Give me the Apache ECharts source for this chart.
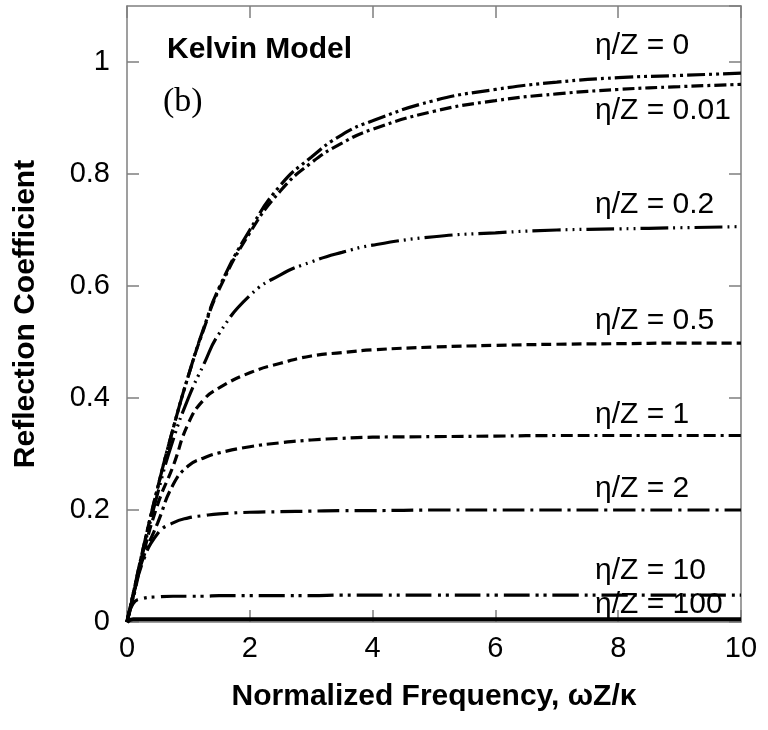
<!DOCTYPE html>
<html>
<head>
<meta charset="utf-8">
<script src="https://cdn.jsdelivr.net/npm/echarts@6/dist/echarts.min.js"></script>
<style>
html,body{margin:0;padding:0;background:#fff;}
#chart{width:768px;height:730px;}
</style>
</head>
<body>
<div id="chart"></div>
<script>
// Normalized frequency sample points
var xs = [0, 0.1, 0.25, 0.5, 0.75, 1, 1.25, 1.5, 2, 2.5, 3, 3.5, 4, 5, 6, 7, 8, 9, 10];

// Reflection coefficient for each eta/Z
var eta0    = [0, 0.05, 0.125, 0.24, 0.345, 0.44, 0.525, 0.597, 0.70, 0.78, 0.83, 0.87, 0.895, 0.931, 0.951, 0.964, 0.972, 0.976, 0.980];
var eta001  = [0, 0.05, 0.125, 0.24, 0.345, 0.44, 0.523, 0.594, 0.695, 0.77, 0.82, 0.855, 0.88, 0.912, 0.931, 0.943, 0.951, 0.956, 0.960];
var eta02   = [0, 0.048, 0.12, 0.23, 0.325, 0.40, 0.46, 0.515, 0.583, 0.62, 0.643, 0.66, 0.673, 0.688, 0.695, 0.70, 0.702, 0.704, 0.706];
var eta05   = [0, 0.045, 0.115, 0.21, 0.278, 0.355, 0.397, 0.418, 0.445, 0.462, 0.475, 0.481, 0.486, 0.491, 0.494, 0.496, 0.497, 0.498, 0.498];
var eta1    = [0, 0.045, 0.11, 0.177, 0.245, 0.279, 0.293, 0.302, 0.313, 0.32, 0.325, 0.328, 0.330, 0.331, 0.332, 0.333, 0.333, 0.333, 0.333];
var eta2    = [0, 0.042, 0.105, 0.158, 0.177, 0.186, 0.19, 0.193, 0.196, 0.197, 0.198, 0.199, 0.199, 0.200, 0.200, 0.200, 0.200, 0.200, 0.200];
var eta10   = [0, 0.033, 0.042, 0.045, 0.046, 0.046, 0.046, 0.047, 0.047, 0.047, 0.047, 0.048, 0.048, 0.048, 0.048, 0.048, 0.048, 0.048, 0.048];
var eta100  = [0, 0.005, 0.005, 0.005, 0.005, 0.005, 0.005, 0.005, 0.005, 0.005, 0.005, 0.005, 0.005, 0.005, 0.005, 0.005, 0.005, 0.005, 0.005];

var seriesNames = ['η/Z = 0', 'η/Z = 0.01', 'η/Z = 0.2', 'η/Z = 0.5', 'η/Z = 1', 'η/Z = 2', 'η/Z = 10', 'η/Z = 100'];
var seriesData = [eta0, eta001, eta02, eta05, eta1, eta2, eta10, eta100];

var xTicks = [0, 2, 4, 6, 8, 10];
var yTicks = [0, 0.2, 0.4, 0.6, 0.8, 1];

var dashes = [
  [18, 4, 3, 4, 3, 4],
  [12, 4, 3, 4],
  [28, 5, 2, 5, 2, 5, 2, 5],
  [10, 5],
  [12, 5, 12, 5, 3, 5],
  [22, 6, 3, 6],
  [26, 6, 3, 5, 3, 6],
  'solid'
];
var widths = [3.2, 3.2, 3.2, 3.2, 3.2, 3.2, 3.2, 4];

// label positions (pixel) for annotations
var labelPos = [[595, 46], [595, 111], [595, 205], [595, 321], [595, 415], [595, 489], [595, 571], [595, 605]];

var chart = echarts.init(document.getElementById('chart'), null, {renderer: 'canvas'});

var series = seriesData.map(function (arr, i) {
  return {
    name: seriesNames[i],
    type: 'line',
    xAxisIndex: 0, yAxisIndex: 0,
    data: xs.map(function (x, j) { return [x, arr[j]]; }),
    showSymbol: false,
    smooth: 0.5,
    lineStyle: {color: '#000', width: widths[i], type: dashes[i], cap: 'butt'},
    z: 3,
    animation: false
  };
});

var FONT = '"Liberation Sans", Arial, sans-serif';
var axisCol = '#7f7f7f';

var graphics = seriesNames.map(function (n, i) {
  return {
    type: 'text', x: labelPos[i][0], y: labelPos[i][1], z: 10,
    style: {text: n, fontFamily: FONT, fontSize: 30, fill: '#000', verticalAlign: 'middle', align: 'left'}
  };
});
graphics.push({
  type: 'text', x: 167, y: 50, z: 10,
  style: {text: 'Kelvin Model', fontFamily: FONT, fontSize: 30, fontWeight: 'bold', fill: '#000', verticalAlign: 'middle'}
});
graphics.push({
  type: 'text', x: 163, y: 102, z: 10,
  style: {text: '(b)', fontFamily: '"Liberation Serif", "Times New Roman", serif', fontSize: 34, fill: '#000', verticalAlign: 'middle'}
});

function axisCommon() {
  return {
    axisLine: {show: true, onZero: false, lineStyle: {color: axisCol, width: 1.5}},
    axisTick: {show: true, inside: true, length: 12, lineStyle: {color: axisCol, width: 1.5}},
    splitLine: {show: false}
  };
}

var xBottom = Object.assign(axisCommon(), {
  type: 'value', min: 0, max: 10, interval: 2, position: 'bottom',
  name: 'Normalized Frequency, ωZ/κ', nameLocation: 'middle', nameGap: 60,
  nameTextStyle: {fontFamily: FONT, fontSize: 30, fontWeight: 'bold', color: '#000'},
  axisLabel: {fontFamily: FONT, fontSize: 29, color: '#000', margin: 12,
    formatter: function (v) { return xTicks.indexOf(v) >= 0 ? String(v) : ''; }}
});
var xTop = Object.assign(axisCommon(), {
  type: 'value', min: 0, max: 10, interval: 2, position: 'top', axisLabel: {show: false}
});
var yLeft = Object.assign(axisCommon(), {
  type: 'value', min: 0, max: 1.1, interval: 0.2, position: 'left',
  name: 'Reflection Coefficient', nameLocation: 'middle', nameGap: 86,
  nameTextStyle: {fontFamily: FONT, fontSize: 30, fontWeight: 'bold', color: '#000'},
  axisLabel: {fontFamily: FONT, fontSize: 29, color: '#000', margin: 17, showMaxLabel: false,
    formatter: function (v) {
      for (var k = 0; k < yTicks.length; k++) { if (Math.abs(yTicks[k] - v) < 1e-9) return String(yTicks[k]); }
      return '';
    }}
});
var yRight = Object.assign(axisCommon(), {
  type: 'value', min: 0, max: 1.1, interval: 0.2, position: 'right', axisLabel: {show: false}
});

var option = {
  backgroundColor: '#fff',
  animation: false,
  grid: {left: 127, right: 27, top: 6, bottom: 108, containLabel: false},
  xAxis: [xBottom, xTop],
  yAxis: [yLeft, yRight],
  series: series,
  graphic: graphics
};
chart.setOption(option);
</script>
</body>
</html>
